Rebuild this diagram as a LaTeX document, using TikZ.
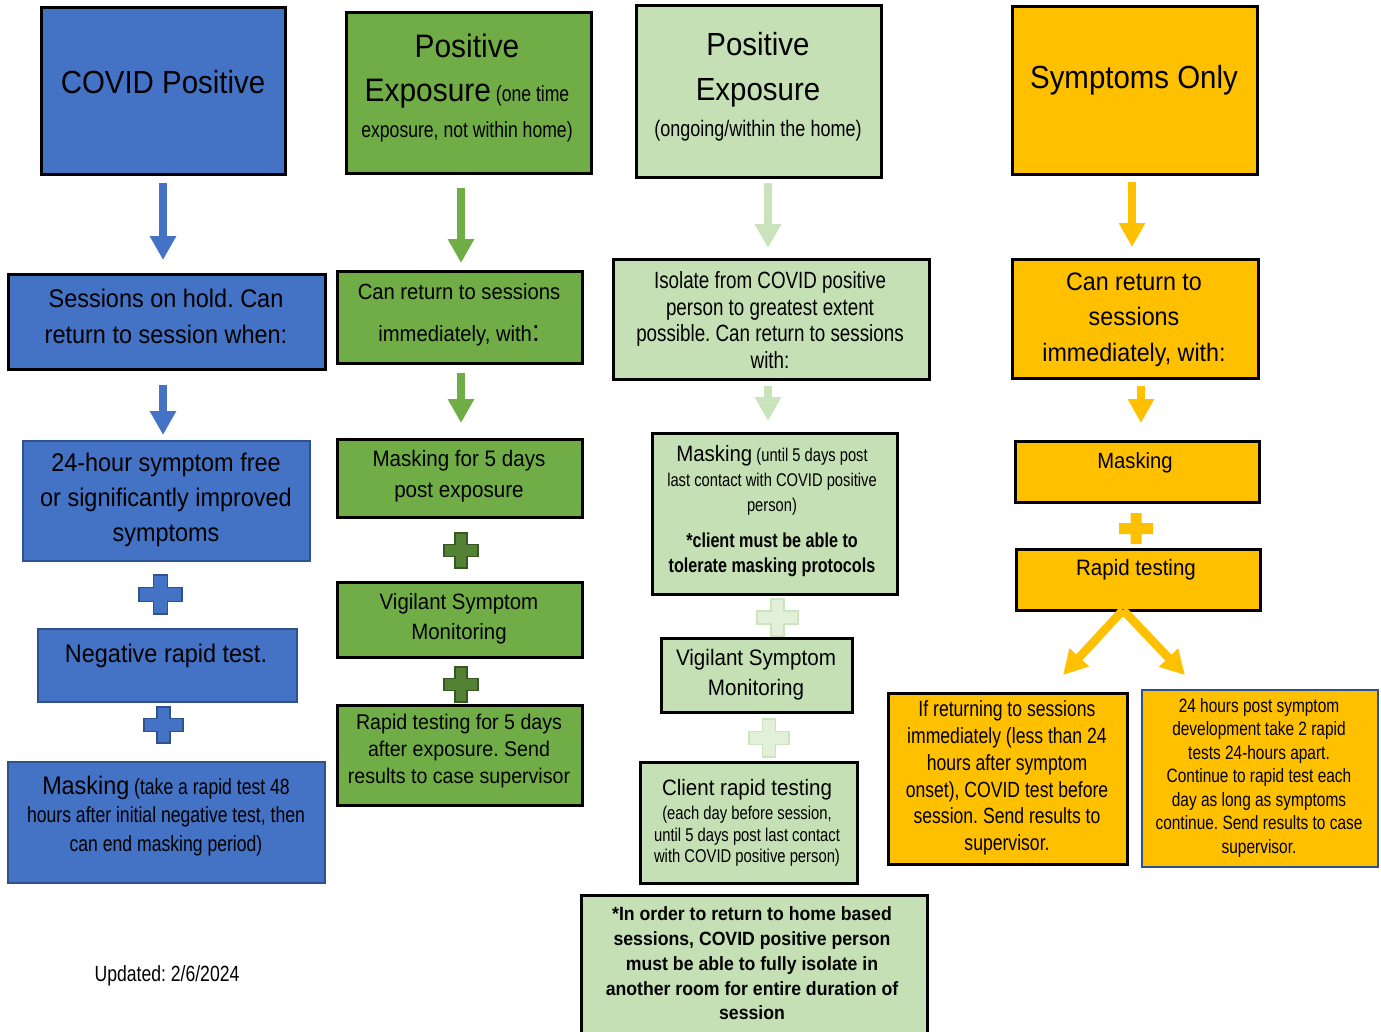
\documentclass[tikz,border=0pt]{standalone}
\usepackage{fontspec}
\setmainfont{Liberation Sans}
\newfontfamily\wf[FakeStretch=0.92]{Liberation Sans}
\newfontfamily\nf[FakeStretch=0.8]{Liberation Sans}
\usetikzlibrary{arrows.meta,calc}
\frenchspacing
\definecolor{cblue}{HTML}{4472C4}
\definecolor{cbluedk}{HTML}{2F528F}
\definecolor{cgreen}{HTML}{70AD47}
\definecolor{cgreendk}{HTML}{548235}
\definecolor{cgreenln}{HTML}{385723}
\definecolor{clight}{HTML}{C5E0B4}
\definecolor{clightar}{HTML}{C9E4BA}
\definecolor{clightpl}{HTML}{E2F0D9}
\definecolor{clightpln}{HTML}{CDE5BF}
\definecolor{corange}{HTML}{FFC000}
\newcommand\mybox[6]{\node[#6, minimum width={#4-#2}, minimum height={#5-#3}] (#1) at ({(#2+#4)/2},{(#3+#5)/2}) {};}
\tikzset{
  bx/.style={draw=black, line width=3pt, inner sep=0pt, outer sep=0pt},
  bxblue/.style={bx, fill=cblue},
  bxblue2/.style={bx, fill=cblue, draw=cbluedk, line width=2pt},
  bxgreen/.style={bx, fill=cgreen},
  bxlight/.style={bx, fill=clight},
  bxorange/.style={bx, fill=corange},
  bxorange2/.style={bx, fill=corange, draw=cbluedk, line width=2.5pt},
  txt/.style={align=center, inner sep=0pt, text=black},
  arr/.style={draw=#1, line width=8.5pt, -{Triangle[length=24pt,width=25pt]}},
  pics/plusmark/.style n args={5}{code={
    \filldraw[fill=#4, draw=#5, line width=1.3pt]
      ({-#3/2},{-#2/2}) -- ({#3/2},{-#2/2}) -- ({#3/2},{-#3/2}) -- ({#1/2},{-#3/2})
      -- ({#1/2},{#3/2}) -- ({#3/2},{#3/2}) -- ({#3/2},{#2/2}) -- ({-#3/2},{#2/2})
      -- ({-#3/2},{#3/2}) -- ({-#1/2},{#3/2}) -- ({-#1/2},{-#3/2}) -- ({-#3/2},{-#3/2}) -- cycle;
  }}
}
\begin{document}
\begin{tikzpicture}[x=1pt,y=-1pt]
\useasboundingbox (0,0) rectangle (1381,1031);
\clip (0,0) rectangle (1381,1031);
\fill[white] (0,0) rectangle (1381,1031);

% ---------- column 1 : blue ----------
\mybox{B1}{41}{7}{285}{174}{bxblue}
\mybox{B2}{8}{274}{325}{369}{bxblue}
\mybox{B3}{23}{441}{310}{561}{bxblue2}
\mybox{B4}{38}{629}{297}{702}{bxblue2}
\mybox{B5}{8}{762}{325}{883}{bxblue2}
\node[txt, font=\wf\fontsize{32}{38}\selectfont] (B1t) at (163,82) {COVID Positive};
\node[txt, font=\wf\fontsize{25.5}{36}\selectfont] (B2t) at (166,316) {Sessions on hold. Can\\return to session when:};
\node[txt, font=\wf\fontsize{25.5}{35}\selectfont] (B3t) at (166,500) {24-hour symptom free\\or significantly improved\\symptoms};
\node[txt, font=\wf\fontsize{25.5}{30}\selectfont] (B4t) at (166,656) {Negative rapid test.};
\node[txt, font=\nf\fontsize{22}{28.5}\selectfont] (B5t) at (166,816) {{\wf\fontsize{25.4}{28.5}\selectfont Masking}\ (take a rapid test 48\\hours after initial negative test, then\\can end masking period)};
\draw[arr=cblue] ($(B1.south)+(0,9)$) -- ($(B1.south |- B2.north)+(0,-14)$);
\draw[arr=cblue] ($(B2.south)+(-3.5,16)$) -- ($(B3.north)+(-3.5,-6)$);
\pic at (160.5,594.5) {plusmark={43}{39}{14}{cblue}{cbluedk}};
\pic at (163.5,725) {plusmark={39}{36}{13}{cblue}{cbluedk}};

% ---------- column 2 : green ----------
\mybox{G1}{346}{12}{591}{173}{bxgreen}
\mybox{G2}{337}{271}{582}{363}{bxgreen}
\mybox{G3}{337}{439}{582}{517}{bxgreen}
\mybox{G4}{337}{582}{582}{657}{bxgreen}
\mybox{G5}{337}{705}{582}{805}{bxgreen}
\node[txt, font=\wf\fontsize{32.5}{44}\selectfont] (G1t) at (467,88) {Positive\\Exposure{\nf\fontsize{22}{28}\selectfont\ (one time}\\[-8pt]{\nf\fontsize{22}{28}\selectfont exposure, not within home)}};
\node[txt, font=\wf\fontsize{22}{42}\selectfont] (G2t) at (459,315) {Can return to sessions\\immediately, with{\fontsize{30}{42}\selectfont :}};
\node[txt, font=\wf\fontsize{22.4}{31}\selectfont] (G3t) at (459,476.5) {Masking for 5 days\\post exposure};
\node[txt, font=\wf\fontsize{22.2}{30}\selectfont] (G4t) at (459,619) {Vigilant Symptom\\Monitoring};
\node[txt, font=\wf\fontsize{21.3}{27}\selectfont] (G5t) at (459,751) {Rapid testing for 5 days\\after exposure. Send\\results to case supervisor};
\draw[arr=cgreen] ($(G1.south)+(-7.5,15)$) -- ($(G2.north)+(1.5,-8)$);
\draw[arr=cgreen] ($(G2.south)+(1.5,10)$) -- ($(G3.north)+(1.5,-16)$);
\pic at (461,550.5) {plusmark={34}{35}{12}{cgreendk}{cgreenln}};
\pic at (461,684.5) {plusmark={34}{35}{12}{cgreendk}{cgreenln}};

% ---------- column 3 : light green ----------
\mybox{L1}{636}{5}{881}{177}{bxlight}
\mybox{L2}{613}{259}{929}{379}{bxlight}
\mybox{L3}{652}{433}{897}{594}{bxlight}
\mybox{L4}{661}{638}{852}{712}{bxlight}
\mybox{L5}{640}{762}{857}{883}{bxlight}
\mybox{L6}{581}{895}{927}{1045}{bxlight}
\node[txt, font=\wf\fontsize{32}{45}\selectfont] (L1t) at (758,86.5) {Positive\\Exposure\\[-9pt]{\nf\fontsize{22.5}{28}\selectfont (ongoing/within the home)}};
\node[txt, font=\nf\fontsize{23.5}{26.7}\selectfont] (L2t) at (770,320) {Isolate from COVID positive\\person to greatest extent\\possible. Can return to sessions\\with:};
\node[txt, font=\nf\fontsize{18.4}{25}\selectfont] (L3t) at (772,511) {{\wf\fontsize{22.2}{25}\selectfont Masking}\ (until 5 days post\\last contact with COVID positive\\person)\\[11pt]{\bfseries\fontsize{20.2}{25}\selectfont *client must be able to}\\{\bfseries\fontsize{20.2}{25}\selectfont tolerate masking protocols}};
\node[txt, font=\wf\fontsize{22.4}{30}\selectfont] (L4t) at (756,675) {Vigilant Symptom\\Monitoring};
\node[txt, font=\nf\fontsize{18.5}{21.5}\selectfont] (L5t) at (747,823) {{\wf\fontsize{22.3}{24}\selectfont Client rapid testing}\\[2.5pt](each day before session,\\until 5 days post last contact\\with COVID positive person)};
\node[txt, font=\wf\bfseries\fontsize{19.2}{24.8}\selectfont] (L6t) at (752,963.5) {*In order to return to home based\\sessions, COVID positive person\\must be able to fully isolate in\\another room for entire duration of\\session};
\draw[arr=clightar] ($(L1.south)+(9.5,6)$) -- ($(L2.north)+(-3,-11)$);
\draw[arr=clightar] ($(L2.south)+(-3,7)$) -- ($(L3.north)+(-6.5,-12)$);
\pic at (777.5,617.5) {plusmark={41}{37}{13}{clightpl}{clightpln}};
\pic at (769,738) {plusmark={40}{38}{13}{clightpl}{clightpln}};

% ---------- column 4 : orange ----------
\mybox{O1}{1012}{6}{1257}{174}{bxorange}
\mybox{O2}{1012}{259}{1258}{378}{bxorange}
\mybox{O3}{1015}{441}{1259}{502}{bxorange}
\mybox{O4}{1016}{549}{1260}{610}{bxorange}
\mybox{O5}{888}{693}{1127}{864}{bxorange}
\mybox{O6}{1142}{690}{1378}{867}{bxorange2}
\node[txt, font=\wf\fontsize{32}{38}\selectfont] (O1t) at (1134,80) {Symptoms Only};
\node[txt, font=\wf\fontsize{25.3}{35.5}\selectfont] (O2t) at (1134,319.5) {Can return to\\sessions\\immediately, with:};
\node[txt, font=\wf\fontsize{22}{28}\selectfont] (O3t) at (1135,463) {Masking};
\node[txt, font=\wf\fontsize{22.3}{28}\selectfont] (O4t) at (1136,570) {Rapid testing};
\node[txt, font=\nf\fontsize{22}{26.8}\selectfont] (O5t) at (1007,778) {If returning to sessions\\immediately (less than 24\\hours after symptom\\onset), COVID test before\\session. Send results to\\supervisor.};
\node[txt, font=\nf\fontsize{19.3}{23.5}\selectfont] (O6t) at (1259,777.5) {24 hours post symptom\\development take 2 rapid\\tests 24-hours apart.\\Continue to rapid test each\\day as long as symptoms\\continue. Send results to case\\supervisor.};
\draw[arr=corange] ($(O1.south)+(-2.5,8)$) -- ($(O2.north)+(-3,-12)$);
\draw[arr=corange] ($(O2.south)+(6,8)$) -- ($(O3.north)+(4,-18)$);
\pic at (1136,528.5) {plusmark={34}{31}{11}{corange}{none}};
\coordinate (split) at ($(O4.south)+(-15,0)$);
\coordinate (tipL) at ($(O5.north)+(55.5,-18)$);
\coordinate (tipR) at ($(O6.north)+(-75,-15)$);
\draw[arr=corange] (split) -- (tipL);
\draw[arr=corange] (split) -- (tipR);

% ---------- footer ----------
\node[txt, font=\nf\fontsize{22}{26}\selectfont] (upd) at (167,976) {Updated: 2/6/2024};
\end{tikzpicture}
\end{document}
